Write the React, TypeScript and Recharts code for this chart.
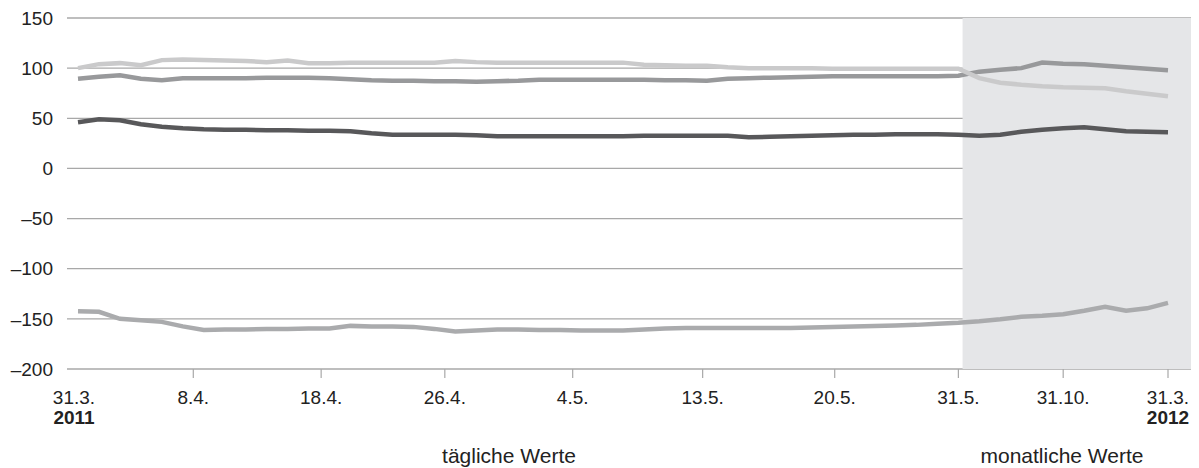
import React from "react"
import { CartesianGrid, Line, LineChart, ReferenceArea, XAxis, YAxis } from "recharts"

// 42 daily steps (31.3.–31.5.2011) followed by 10 monthly steps (to 31.3.2012)
const lightSeries = [
  100, 104, 105, 103, 108, 108.5, 108, 107.5, 107, 106, 107.5, 105, 105, 105.5, 105.5, 105.5, 105.5, 105.5,
  107, 106, 105.5, 105.5, 105.5, 105.5, 105.5, 105.5, 105.5, 103.5, 103, 102.5, 102.5, 101, 100, 100, 100,
  100, 99.5, 99.5, 99.5, 99.5, 99.5, 99.5, 99.5, 90, 85.5, 83.5, 82, 81, 80.5, 80, 77, 74.5, 72,
]
const midSeries = [
  89.5, 91.5, 93, 89.5, 88, 90, 90, 90, 90, 90.5, 90.5, 90.5, 90, 89, 88, 87.5, 87.5, 87, 87, 86.5, 87,
  87.5, 88.5, 88.5, 88.5, 88.5, 88.5, 88.5, 88, 88, 87.5, 89.5, 90, 90.5, 91, 91.5, 92, 92, 92, 92, 92, 92,
  92.5, 96.5, 98.5, 100, 105.5, 104.5, 104, 102.5, 101, 99.5, 98,
]
const darkSeries = [
  46, 49, 48, 44, 41.5, 40, 39, 38.5, 38.5, 38, 38, 37.5, 37.5, 37, 35, 33.5, 33.5, 33.5, 33.5, 33, 32, 32,
  32, 32, 32, 32, 32, 32.5, 32.5, 32.5, 32.5, 32.5, 31, 31.5, 32, 32.5, 33, 33.5, 33.5, 34, 34, 34, 33.5,
  32.5, 33.5, 36.5, 38.5, 40, 41, 39, 37, 36.5, 36,
]
const lowSeries = [
  -142.5, -143, -150, -151.5, -153, -157.5, -161, -160.5, -160.5, -160, -160, -159.5, -159.5, -157, -157.5,
  -157.5, -158, -160, -162.5, -161.5, -160.5, -160.5, -161, -161, -161.5, -161.5, -161.5, -160.5, -159.5,
  -159, -159, -159, -159, -159, -159, -158.5, -158, -157.5, -157, -156.5, -156, -155, -154, -152.5, -150.5,
  -148, -147, -145.5, -142, -138, -142, -139.5, -134,
]

const xTicks = [0, 5.5, 11.6, 17.5, 23.6, 29.8, 36.1, 42, 47, 52]
const xTickLabels = ["31.3.", "8.4.", "18.4.", "26.4.", "4.5.", "13.5.", "20.5.", "31.5.", "31.10.", "31.3."]
const xTickYears = ["2011", "", "", "", "", "", "", "", "", "2012"]
const yTicks = [-200, -150, -100, -50, 0, 50, 100, 150]

const monthlyFrom = 42.2
const monthlyTo = 53.1

const data = lightSeries.map((v, i) => ({
  i,
  light: v,
  mid: midSeries[i],
  dark: darkSeries[i],
  low: lowSeries[i],
}))

const FONT = "'Liberation Sans', Arial, sans-serif"
const TEXT = "#222"
const GRID = "#a8a8a8"

const XTick = (props: any) => {
  const { x, y, payload, index } = props
  const k = xTicks.indexOf(payload.value)
  const label = xTickLabels[k] ?? ""
  const year = xTickYears[k] ?? ""
  return (
    <g>
      {index > 0 && <line x1={x} x2={x} y1={y} y2={y + 9} stroke={GRID} strokeWidth={1.2} />}
      <text x={x} y={y + 35} dx={index === 0 ? -4 : 0} textAnchor="middle" fill={TEXT} fontSize={19} fontFamily={FONT}>
        {label}
      </text>
      {year && (
        <text
          x={x}
          y={y + 55}
          dx={index === 0 ? -4 : 0}
          textAnchor="middle"
          fill={TEXT}
          fontSize={19}
          fontWeight="bold"
          fontFamily={FONT}
        >
          {year}
        </text>
      )}
    </g>
  )
}

const fmtY = (v: number) => (v < 0 ? "\u2013" + Math.abs(v) : String(v))

export default function App() {
  return (
    <div style={{ position: "relative", width: 1191, height: 460 }}>
      <LineChart width={1191} height={460} data={data} margin={{ top: 10, right: 8, bottom: 0, left: 0 }}>
        <ReferenceArea x1={monthlyFrom} x2={monthlyTo} fill="#e5e6e8" fillOpacity={1} ifOverflow="visible" />
        <CartesianGrid vertical={false} stroke={GRID} strokeWidth={1.3} />
        <XAxis
          dataKey="i"
          type="number"
          domain={[0, 52]}
          ticks={xTicks}
          interval={0}
          padding={{ left: 11, right: 23 }}
          axisLine={false}
          tickLine={false}
          tickSize={0}
          tickMargin={0}
          height={99}
          tick={<XTick />}
        />
        <YAxis
          type="number"
          domain={[-200, 150]}
          ticks={yTicks}
          interval={0}
          width={59}
          axisLine={false}
          tickLine={false}
          tickMargin={8}
          tickFormatter={fmtY}
          tick={{ fill: TEXT, fontSize: 19, fontFamily: FONT }}
        />
        <Line dataKey="low" stroke="#aaabad" strokeWidth={4.5} dot={false} isAnimationActive={false} />
        <Line dataKey="dark" stroke="#58585a" strokeWidth={4.5} dot={false} isAnimationActive={false} />
        <Line dataKey="mid" stroke="#98999b" strokeWidth={4.5} dot={false} isAnimationActive={false} />
        <Line dataKey="light" stroke="#cacacb" strokeWidth={4.5} dot={false} isAnimationActive={false} />
      </LineChart>
      <svg width={1191} height={460} style={{ position: "absolute", left: 0, top: 0, pointerEvents: "none" }}>
        <text x={501} y={455} textAnchor="middle" fill={TEXT} fontSize={21} fontFamily={FONT}>
          tägliche Werte
        </text>
        <text x={1054} y={455} textAnchor="middle" fill={TEXT} fontSize={21} fontFamily={FONT}>
          monatliche Werte
        </text>
      </svg>
    </div>
  )
}
